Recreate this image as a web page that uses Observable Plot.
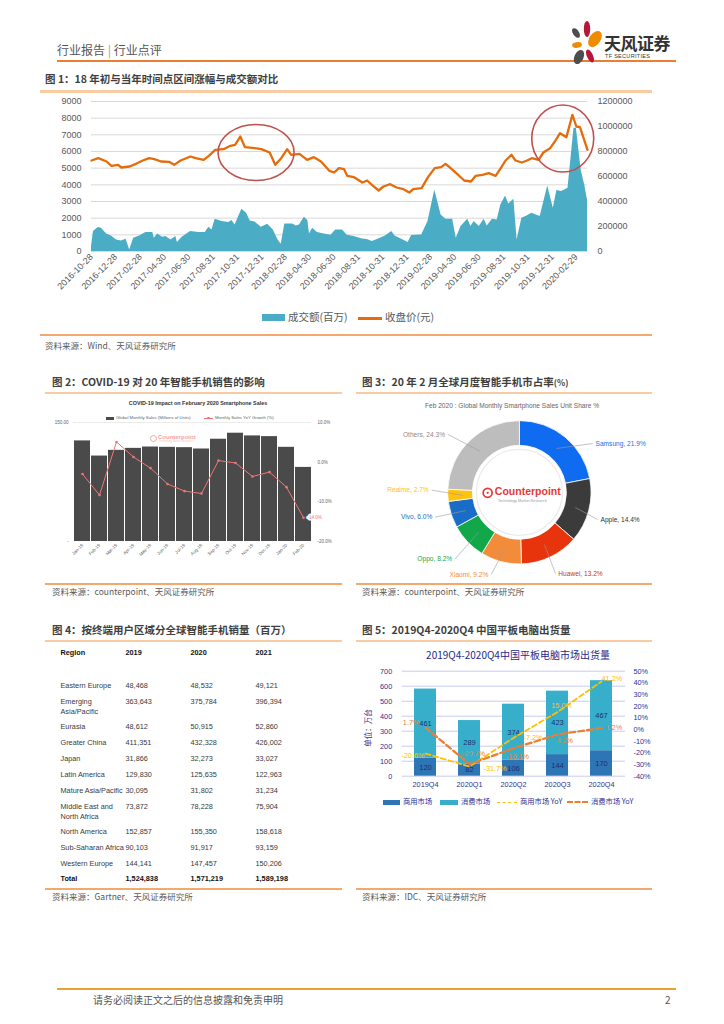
<!DOCTYPE html>
<html><head><meta charset="utf-8">
<script src="https://cdn.jsdelivr.net/npm/d3@7"></script>
<script src="https://cdn.jsdelivr.net/npm/@observablehq/plot@0.6"></script>
<style>
body{margin:0;background:#fff;}
#page{position:relative;width:724px;height:1024px;overflow:hidden;font-family:"Noto Sans CJK SC","Noto Sans",sans-serif;color:#333;}
.abs{position:absolute;white-space:nowrap;line-height:1;}
.figtitle{font-size:10.5px;font-weight:bold;color:#3f3f3f;}
.src{font-size:8.5px;color:#595959;}
</style></head><body><div id="page"></div>
<script>
// ================= DATA =================
// Figure 1
const closePrice = [
["2016-10-28",5460],["2016-11-14",5600],["2016-12-05",5400],["2016-12-17",5140],["2017-01-03",5200],["2017-01-11",5040],
["2017-02-01",5100],["2017-02-17",5260],["2017-03-06",5460],["2017-03-22",5600],["2017-04-04",5540],["2017-04-21",5400],
["2017-05-11",5380],["2017-05-24",5200],["2017-06-09",5460],["2017-07-04",5700],["2017-07-17",5600],["2017-08-06",5500],
["2017-08-19",5740],["2017-09-04",6100],["2017-09-25",6140],["2017-10-12",6340],["2017-10-24",6400],["2017-11-06",6900],
["2017-11-18",6260],["2017-12-13",6200],["2017-12-29",6140],["2018-01-19",5940],["2018-02-02",5200],["2018-02-17",5600],
["2018-03-04",6140],["2018-03-14",5800],["2018-04-04",5860],["2018-04-23",5500],["2018-05-10",5660],["2018-05-28",5400],
["2018-06-18",4840],["2018-06-30",4740],["2018-07-12",5000],["2018-07-25",4940],["2018-08-02",4540],["2018-08-19",4460],
["2018-09-09",4140],["2018-09-21",4260],["2018-10-03",4000],["2018-10-20",3660],["2018-11-01",3900],["2018-11-18",4040],
["2018-12-04",3840],["2018-12-21",3740],["2019-01-05",3540],["2019-01-15",3740],["2019-02-05",3800],["2019-02-21",4460],
["2019-03-10",5000],["2019-03-26",5060],["2019-04-06",5260],["2019-04-16",5060],["2019-05-03",4700],["2019-05-23",4260],
["2019-06-09",4200],["2019-06-21",4540],["2019-07-08",4600],["2019-07-24",4700],["2019-08-10",4540],["2019-08-23",5000],
["2019-09-04",5460],["2019-09-19",5800],["2019-09-29",5460],["2019-10-15",5340],["2019-10-28",5460],["2019-11-09",5600],
["2019-11-26",5500],["2019-12-08",5940],["2019-12-25",6200],["2020-01-06",6600],["2020-01-19",7100],["2020-02-04",6860],
["2020-02-19",8200],["2020-02-29",7500],["2020-03-09",7460],["2020-03-28",6100]];
const turnover = [
["2016-10-28",40000],["2016-11-02",160000],["2016-11-14",192000],["2016-11-22",187000],["2016-12-05",141000],["2016-12-17",125000],
["2016-12-30",93000],["2017-01-11",85000],["2017-01-23",99000],["2017-02-01",13000],["2017-02-11",107000],["2017-02-26",125000],
["2017-03-14",152000],["2017-03-31",152000],["2017-04-04",107000],["2017-04-12",141000],["2017-04-25",115000],["2017-05-03",120000],
["2017-05-16",93000],["2017-05-28",120000],["2017-06-01",72000],["2017-06-13",115000],["2017-07-04",160000],["2017-07-25",152000],
["2017-08-10",152000],["2017-08-19",195000],["2017-08-27",173000],["2017-09-04",259000],["2017-09-21",240000],["2017-10-08",232000],
["2017-10-16",248000],["2017-10-24",213000],["2017-11-10",339000],["2017-11-22",307000],["2017-12-01",245000],["2017-12-13",237000],
["2017-12-29",195000],["2018-01-14",219000],["2018-01-28",173000],["2018-02-09",93000],["2018-02-17",59000],["2018-02-26",221000],
["2018-03-18",221000],["2018-03-27",205000],["2018-04-04",213000],["2018-04-16",275000],["2018-04-25",248000],["2018-04-29",141000],
["2018-05-07",187000],["2018-05-19",152000],["2018-06-05",141000],["2018-06-22",131000],["2018-07-04",173000],["2018-07-21",173000],
["2018-08-02",131000],["2018-08-19",120000],["2018-09-09",101000],["2018-09-21",96000],["2018-10-04",80000],["2018-10-20",101000],
["2018-11-06",125000],["2018-11-22",160000],["2018-11-30",125000],["2018-12-17",99000],["2019-01-02",72000],["2019-01-11",128000],
["2019-02-05",133000],["2019-02-21",240000],["2019-03-10",493000],["2019-03-26",293000],["2019-04-07",259000],["2019-04-24",259000],
["2019-05-03",107000],["2019-05-15",200000],["2019-06-01",259000],["2019-06-09",200000],["2019-06-17",240000],["2019-06-30",200000],
["2019-07-12",259000],["2019-07-20",205000],["2019-08-02",259000],["2019-08-14",253000],["2019-08-23",373000],["2019-09-04",445000],
["2019-09-12",381000],["2019-09-25",419000],["2019-10-03",93000],["2019-10-15",267000],["2019-10-28",285000],["2019-11-09",307000],
["2019-11-30",280000],["2019-12-19",525000],["2020-01-02",347000],["2020-01-11",488000],["2020-01-23",480000],["2020-02-08",507000],
["2020-02-23",987000],["2020-02-29",987000],["2020-03-12",653000],["2020-03-21",533000],["2020-03-28",413000]];
const fig1Ticks = ["2016-10-28","2016-12-28","2017-02-28","2017-04-30","2017-06-30","2017-08-31","2017-10-31","2017-12-31",
"2018-02-28","2018-04-30","2018-06-30","2018-08-31","2018-10-31","2018-12-31","2019-02-28","2019-04-30","2019-06-30",
"2019-08-31","2019-10-31","2019-12-31","2020-02-29"];
const highlightCenters = [["2017-12-17",5910],["2020-01-27",6750]];
const highlightRadii = [[38,28],[31,33.5]];   // style (px)

// Figure 2
const months = ["Jan-19","Feb-19","Mar-19","Apr-19","May-19","Jun-19","Jul-19","Aug-19","Sep-19","Oct-19","Nov-19","Dec-19","Jan-20","Feb-20"];
const monthlySales = [126.8,107.7,114.9,117.4,119.1,118.7,118.3,116.6,128.9,136.5,133.1,132.2,118.7,93.4];
const yoyGrowth = [-3.0,-8.3,5.1,1.3,-1.5,-5.5,-7.3,-7.9,0.4,-0.2,-3.6,-2.5,-6.3,-14.0];

// Figure 3
const brands = ["Samsung","Apple","Huawei","Xiaomi","Oppo","Vivo","Realme","Others"];
const shares = [21.9,14.4,13.2,9.2,8.2,6.0,2.7,24.3];
const brandColors = ["#0F6CF0","#3B3B3B","#E8340C","#F28C3A","#12A84A","#1A6DC6","#FFC20E","#BDBDBD"];
const labelColors = ["#1A6FE8","#333333","#C0392B","#F28C3A","#12A84A","#1A6DC6","#FFC20E","#8C8C8C"];
const labelNudges = [[0.18,-0.255],[-0.155,-0.06],[-0.087,-0.025],[-0.025,0.04],[0.037,-0.082],[0.038,0.04],[0.046,0.089],[-0.1,-0.066]];

// Figure 4
const tableHeader = ["Region","2019","2020","2021"];
const regions = ["Eastern Europe","Emerging\nAsia/Pacific","Eurasia","Greater China","Japan","Latin America","Mature Asia/Pacific",
"Middle East and\nNorth Africa","North America","Sub-Saharan Africa","Western Europe","Total"];
const units2019 = [48468,363643,48612,411351,31866,129830,30095,73872,152857,90103,144141,1524838];
const units2020 = [48532,375784,50915,432328,32273,125635,31802,78228,155350,91917,147457,1571219];
const units2021 = [49121,396394,52860,426002,33027,122963,31234,75904,158618,93159,150206,1589198];

// Figure 5
const quarters = ["2019Q4","2020Q1","2020Q2","2020Q3","2020Q4"];
const commercial = [120,82,106,144,170];
const consumer = [461,289,374,423,467];
const commercialYoY = [-20.6,-31.7,-7.2,15.0,41.2];
const consumerYoY = [1.7,-29.7,-16.1,-4.2,1.2];
const commercialLabelPlace = [["end",-1,2],["start",14,2],["start",10,0],["middle",4,-6],["start",0,-3]];
const consumerLabelPlace = [["end",-6,-5],["middle",4,-11],["middle",4,8],["middle",6,6],["start",4,0]];

// ================= HELPERS =================
const page = document.getElementById("page");
function put(html, x, y, css=""){const d=document.createElement("div");d.className="abs";d.style.cssText=`left:${x}px;top:${y}px;`+css;d.innerHTML=html;page.appendChild(d);return d;}
function putCenter(html, cx, y, css=""){return put(html, cx-200, y, "width:400px;text-align:center;"+css);}
function rect(x,y,w,h,css){const d=document.createElement("div");d.style.cssText=`position:absolute;left:${x}px;top:${y}px;width:${w}px;height:${h}px;`+css;page.appendChild(d);return d;}
function place(node,x,y){node.style.position="absolute";node.style.left=x+"px";node.style.top=y+"px";page.appendChild(node);}
const parse = d3.utcParse("%Y-%m-%d");
const ORANGE_TOP="#F8CBA3", ORANGE_BOT="#F4A86C";

// ================= HEADER =================
put("行业报告 <span style='color:#999'>|</span> 行业点评",57,44,"font-size:12px;color:#555;");
rect(57,60,619,2,"background:#ED7D31");
put(`<svg width="36" height="50" viewBox="0 0 36 50">
<ellipse cx="19" cy="9" rx="3.2" ry="8" fill="#B5173A"/>
<ellipse cx="27" cy="19" rx="5.5" ry="9" transform="rotate(35 27 19)" fill="#F08A00"/>
<ellipse cx="8" cy="13" rx="3" ry="5.5" transform="rotate(-35 8 13)" fill="#4D4D4D"/>
<ellipse cx="9" cy="25" rx="5" ry="2.8" transform="rotate(-10 9 25)" fill="#F08A00"/>
<ellipse cx="11" cy="37" rx="4.5" ry="7.5" transform="rotate(25 11 37)" fill="#4D4D4D"/>
<ellipse cx="22" cy="36" rx="3" ry="7" transform="rotate(-25 22 36)" fill="#B5173A"/></svg>`,568,20);
put("天风证券",604,34,"font-size:17px;font-weight:bold;color:#333;letter-spacing:-0.5px;");
put("TF SECURITIES",605,54,"font-size:5.5px;color:#333;letter-spacing:0.3px;font-family:'Liberation Sans';");

// ================= FIGURE 1 =================
put("图 1：18 年初与当年时间点区间涨幅与成交额对比",45,74,"");
page.lastChild.className="abs figtitle";
rect(40,90,612,2.5,"background:"+ORANGE_TOP);
{
  const LMAX=9000, RMAX=1200000;
  const toLeft = v => v*LMAX/RMAX;
  const price = closePrice.map(([d,v])=>({date:parse(d),v}));
  const vol = turnover.map(([d,v])=>({date:parse(d),v}));
  const circles = highlightCenters.map(([d,v],i)=>({date:parse(d),v,rx:highlightRadii[i][0],ry:highlightRadii[i][1]}));
  const ellipseMark = (index, scales) => {
    const g = d3.create("svg:g");
    for (const c of circles) g.append("ellipse").attr("cx",scales.x(c.date)).attr("cy",scales.y(c.v))
      .attr("rx",c.rx).attr("ry",c.ry).attr("fill","none").attr("stroke","#C0504D").attr("stroke-width",1.6);
    return g.node();
  };
  const chart = Plot.plot({
    width:630,height:215,marginLeft:51,marginRight:83,marginTop:9,marginBottom:56,
    x:{type:"utc",domain:[parse("2016-10-28"),parse("2020-03-28")]},
    y:{domain:[0,LMAX]},
    style:{fontFamily:"'Liberation Sans',Arial,sans-serif",fontSize:"9px",color:"#595959",background:"transparent"},
    marks:[
      Plot.gridY({ticks:d3.range(0,LMAX+1,1000),stroke:"#D9D9D9",strokeOpacity:1}),
      Plot.areaY(vol,{x:"date",y:d=>toLeft(d.v),fill:"#4BACC6"}),
      Plot.line(price,{x:"date",y:"v",stroke:"#E46C0A",strokeWidth:2.3}),
      ellipseMark,
      Plot.axisY({ticks:d3.range(0,LMAX+1,1000),tickFormat:t=>String(t),tickSize:0,tickPadding:10,label:null,fontSize:9}),
      Plot.axisY({anchor:"right",ticks:d3.range(0,LMAX+1,1500),tickFormat:t=>String(Math.round(t*RMAX/LMAX)),tickSize:0,tickPadding:10,label:null,fontSize:9}),
      Plot.axisX({ticks:fig1Ticks.map(parse),tickFormat:d3.utcFormat("%Y-%m-%d"),tickRotate:-45,tickSize:0,tickPadding:4,label:null,fontSize:9})
    ]
  });
  place(chart,40,92);
  put("",262,314,"width:23px;height:7px;background:#4BACC6;");
  put("成交额(百万)",288,312,"font-size:10.5px;color:#595959;");
  put("",358,317,"width:24px;height:2.5px;background:#E46C0A;");
  put("收盘价(元)",385,312,"font-size:10.5px;color:#595959;");
}
rect(40,334,612,1.5,"background:"+ORANGE_BOT);
put("资料来源：Wind、天风证券研究所",45,341,"");page.lastChild.className="abs src";

// ================= FIGURE 2 =================
put("图 2：COVID-19 对 20 年智能手机销售的影响",52,377,"");page.lastChild.className="abs figtitle";
rect(45,392,297,2,"background:"+ORANGE_TOP);
putCenter("COVID-19 Impact on February 2020 Smartphone Sales",198,401,"font-size:5.4px;font-weight:bold;color:#333;font-family:'Liberation Sans';");
put("",106,416.5,"width:8px;height:3.5px;background:#4A4A4A;");
put("Global Monthly Sales (Millions of Units)",116,416,"font-size:4.3px;color:#666;font-family:'Liberation Sans';");
put("",204,417.6,"width:9px;height:0.8px;background:#F07575;");
put("",207.3,416.7,"width:2.4px;height:2.4px;border-radius:50%;background:#F07575;");
put("Monthly Sales YoY Growth (%)",215,416,"font-size:4.3px;color:#666;font-family:'Liberation Sans';");
{
  const toLeft2 = v => (v+20)/30*150;
  const data = months.map((m,i)=>({m,v:monthlySales[i],g:yoyGrowth[i]}));
  const last = data[data.length-1];
  const chart = Plot.plot({
    width:295,height:160,marginLeft:28,marginRight:29,marginTop:2,marginBottom:39,
    x:{type:"band",domain:months,paddingInner:0.06,paddingOuter:0},
    y:{domain:[0,150]},
    style:{fontFamily:"'Liberation Sans',Arial,sans-serif",fontSize:"4.5px",color:"#666",background:"transparent"},
    marks:[
      Plot.ruleY([150],{stroke:"#DDDDDD",strokeWidth:0.6}),
      Plot.barY(data,{x:"m",y:"v",fill:"#4A4A4A"}),
      Plot.line(data,{x:"m",y:d=>toLeft2(d.g),stroke:"#F07575",strokeWidth:1}),
      Plot.dot(data,{x:"m",y:d=>toLeft2(d.g),r:1.3,fill:"#F07575"}),
      Plot.text([last],{x:"m",y:d=>toLeft2(d.g),text:d=>d.g.toFixed(1)+"%",textAnchor:"start",dx:4,fill:"#F07575",stroke:"white",strokeWidth:3,fontSize:4.5}),
      Plot.axisY({ticks:[0,150],tickFormat:t=>t===0?"-":t.toFixed(2),tickSize:0,tickPadding:5,label:null,fontSize:4.5}),
      Plot.axisY({anchor:"right",ticks:[-20,-10,0,10].map(toLeft2),tickFormat:t=>(t/150*30-20).toFixed(1)+"%",tickSize:0,tickPadding:6,label:null,fontSize:4.5}),
      Plot.axisX({tickRotate:-45,tickSize:0,tickPadding:3,label:null,fontSize:4.5})
    ]
  });
  place(chart,45,420);
  put("",150,434.5,"width:5px;height:5px;border:1px solid #F4A3A3;border-radius:50%;");
  put("Counterpoint",158,434,"font-size:6px;font-weight:bold;color:#F4A3A3;font-family:'Liberation Sans';");
  put("Technology Market Research",159,441,"font-size:2.6px;color:#F6C0C0;font-family:'Liberation Sans';");
}
rect(45,583,297,1.5,"background:"+ORANGE_BOT);
put("资料来源：counterpoint、天风证券研究所",52,587,"");page.lastChild.className="abs src";

// ================= FIGURE 3 =================
put("图 3：20 年 2 月全球月度智能手机市占率<span style='font-size:8.5px'>(%)</span>",362,377,"");page.lastChild.className="abs figtitle";
rect(356,392,296,2,"background:"+ORANGE_TOP);
putCenter("Feb 2020 : Global Monthly Smartphone Sales Unit Share %",512,403,"font-size:6.6px;color:#666;font-family:'Liberation Sans';");
{
  const pie = d3.pie().sort(null).value(d=>d)(shares);
  const slices = brands.map((b,i)=>{
    const a=(pie[i].startAngle+pie[i].endAngle)/2, s=Math.sin(a), c=Math.cos(a), side=s>=0?1:-1;
    const lx=s*1.22+side*0.1+labelNudges[i][0], ly=c*1.22+labelNudges[i][1];
    return {brand:b,share:shares[i],start:pie[i].startAngle,end:pie[i].endAngle,color:brandColors[i],lc:labelColors[i],
      side,lx,ly,px:s*0.8,py:c*0.8,ex:lx-side*0.04,ey:ly};
  });
  const arcs = (index, scales) => {
    const cx=scales.x(0), cy=scales.y(0), R=scales.x(1)-cx;
    const arc=d3.arc().innerRadius(R*0.655).outerRadius(R);
    const g=d3.create("svg:g").attr("transform",`translate(${cx},${cy})`);
    g.selectAll("path").data(slices).join("path").attr("d",d=>arc({startAngle:d.start,endAngle:d.end}))
      .attr("fill",d=>d.color).attr("stroke","#fff").attr("stroke-width",0.8);
    g.append("circle").attr("r",R*0.6).attr("fill","none").attr("stroke","#EAEAEA").attr("stroke-width",1.2);
    return g.node();
  };
  const lab = d=>`${d.brand}, ${d.share.toFixed(1)}%`;
  const chart = Plot.plot({
    width:296,height:185,margin:0,
    x:{domain:[-2.28,1.85]},y:{domain:[-1.223,1.357]},
    color:{type:"identity"},
    axis:null,
    style:{fontFamily:"'Liberation Sans',Arial,sans-serif",background:"transparent"},
    marks:[
      arcs,
      Plot.link(slices,{x1:"px",y1:"py",x2:"ex",y2:"ey",stroke:"#9A9A9A",strokeWidth:0.6}),
      Plot.text(slices.filter(d=>d.side>0),{x:"lx",y:"ly",text:lab,fill:"lc",textAnchor:"start",fontSize:6.6}),
      Plot.text(slices.filter(d=>d.side<0),{x:"lx",y:"ly",text:lab,fill:"lc",textAnchor:"end",fontSize:6.6}),
      Plot.dot([{x:-0.45,y:0}],{x:"x",y:"y",r:4.5,stroke:"#E53935",strokeWidth:1.7,fill:"none"}),
      Plot.dot([{x:-0.45,y:0}],{x:"x",y:"y",r:1.1,fill:"#E53935"}),
      Plot.text([{x:-0.35,y:0.02,t:"Counterpoint"}],{x:"x",y:"y",text:"t",textAnchor:"start",fill:"#E53935",fontSize:10.5,fontWeight:"bold"}),
      Plot.text([{x:-0.31,y:-0.11,t:"Technology Market Research"}],{x:"x",y:"y",text:"t",textAnchor:"start",fill:"#999",fontSize:3.8})
    ]
  });
  place(chart,356,395);
}
rect(356,583,296,1.5,"background:"+ORANGE_BOT);
put("资料来源：counterpoint、天风证券研究所",362,587,"");page.lastChild.className="abs src";

// ================= FIGURE 4 =================
put("图 4：按终端用户区域分全球智能手机销量（百万）",52,625,"");page.lastChild.className="abs figtitle";
rect(45,640,297,2,"background:"+ORANGE_TOP);
{
  const fmt=d3.format(",");
  const cells=[];
  tableHeader.forEach(h=>cells.push({col:h,y:0,t:h,bold:true}));
  let y=2;
  regions.forEach((r,i)=>{
    const bold = r==="Total";
    cells.push({col:"Region",y,t:r,bold});
    cells.push({col:"2019",y,t:fmt(units2019[i]),bold});
    cells.push({col:"2020",y,t:fmt(units2020[i]),bold});
    cells.push({col:"2021",y,t:fmt(units2021[i]),bold});
    y += r.includes("\n") ? 1.56 : 1;
  });
  const chart = Plot.plot({
    width:297,height:244,marginLeft:15,marginRight:87,marginTop:4,marginBottom:0,
    x:{type:"point",domain:tableHeader,padding:0},y:{domain:[0,15],reverse:true},axis:null,
    style:{fontFamily:"'Liberation Sans',Arial,sans-serif",background:"transparent"},
    marks:[
      Plot.text(cells.filter(d=>!d.bold),{x:"col",y:"y",text:"t",textAnchor:"start",lineAnchor:"top",lineHeight:1.3,fontSize:7.3,fill:"#3a3a3a"}),
      Plot.text(cells.filter(d=>d.bold),{x:"col",y:"y",text:"t",textAnchor:"start",lineAnchor:"top",fontSize:7.3,fontWeight:"bold",fill:"#111"})
    ]
  });
  place(chart,45,645);
}
rect(45,888,297,1.5,"background:"+ORANGE_BOT);
put("资料来源：Gartner、天风证券研究所",52,892,"");page.lastChild.className="abs src";

// ================= FIGURE 5 =================
put("图 5：2019Q4-2020Q4 中国平板电脑出货量",362,625,"");page.lastChild.className="abs figtitle";
rect(356,640,296,2,"background:"+ORANGE_TOP);
const NAVY="#2E3192";
putCenter("2019Q4-2020Q4中国平板电脑市场出货量",518,650,"font-size:10px;color:#1F2A8A;");
put("单位：万台",368,728,"transform:translate(-50%,-50%) rotate(-90deg);font-size:7.5px;color:"+NAVY+";");
{
  const toLeft5 = v => (v+40)/90*700;
  const segs=["商用市场","消费市场"];
  const bars = quarters.flatMap((q,i)=>[{q,seg:segs[0],v:commercial[i]},{q,seg:segs[1],v:consumer[i]}]);
  const cy = quarters.map((q,i)=>({q,v:commercialYoY[i]}));
  const sy = quarters.map((q,i)=>({q,v:consumerYoY[i]}));
  const fmtPct = v => v.toFixed(1)+"%";
  const labelMarks = [];
  cy.forEach((d,i)=>{const [a,dx,dy]=commercialLabelPlace[i];
    labelMarks.push(Plot.text([d],{x:"q",y:e=>toLeft5(e.v),text:e=>fmtPct(e.v),textAnchor:a,dx,dy,fill:"#FFC000",fontSize:7.3}));});
  sy.forEach((d,i)=>{const [a,dx,dy]=consumerLabelPlace[i];
    labelMarks.push(Plot.text([d],{x:"q",y:e=>toLeft5(e.v),text:e=>fmtPct(e.v),textAnchor:a,dx,dy,fill:"#ED7D31",fontSize:7.3}));});
  const chart = Plot.plot({
    width:300,height:133,marginLeft:45.7,marginRight:31,marginTop:8.7,marginBottom:19.3,
    x:{type:"band",domain:quarters,paddingInner:0.5,paddingOuter:0.25},
    y:{domain:[0,700]},
    color:{domain:segs,range:["#2E75B6","#38AFCA"]},
    style:{fontFamily:"'Liberation Sans',Arial,sans-serif",fontSize:"7.3px",color:NAVY,background:"transparent"},
    marks:[
      Plot.gridY({ticks:d3.range(0,701,100),stroke:"#C9CBF0",strokeOpacity:1}),
      Plot.barY(bars,{x:"q",y:"v",fill:"seg"}),
      Plot.text(bars,Plot.stackY({x:"q",y:"v",z:"seg",text:d=>String(d.v),fill:"#1F2F6F",fontSize:7.5})),
      Plot.line(cy,{x:"q",y:d=>toLeft5(d.v),stroke:"#FFC000",strokeWidth:1.8,strokeDasharray:"5,3"}),
      Plot.line(sy,{x:"q",y:d=>toLeft5(d.v),stroke:"#ED7D31",strokeWidth:2.2,strokeDasharray:"6,3"}),
      ...labelMarks,
      Plot.axisY({ticks:d3.range(0,701,100),tickSize:0,tickPadding:10,label:null,fontSize:7.3}),
      Plot.axisY({anchor:"right",ticks:d3.range(-40,51,10).map(toLeft5),tickFormat:t=>Math.round(t/700*90-40)+"%",tickSize:0,tickPadding:8,label:null,fontSize:7.3}),
      Plot.axisX({tickSize:0,tickPadding:6,label:null,fontSize:7.3})
    ]
  });
  place(chart,356,662);
  const lg="font-size:7.3px;color:"+NAVY+";";
  put("",383,800,"width:17px;height:4.5px;background:#2E75B6;");
  put("商用市场",403,798,lg);
  put("",440,800,"width:18px;height:4.5px;background:#38AFCA;");
  put("消费市场",461,798,lg);
  put("",497,801.5,"width:20px;height:0;border-top:1.8px dashed #FFC000;");
  put("商用市场 YoY",520,798,lg);
  put("",567,801.3,"width:21px;height:0;border-top:2.2px dashed #ED7D31;");
  put("消费市场 YoY",591,798,lg);
}
rect(356,888,296,1.5,"background:"+ORANGE_BOT);
put("资料来源：IDC、天风证券研究所",362,892,"");page.lastChild.className="abs src";

// ================= FOOTER =================
rect(57,988,619,2,"background:#EDA035");
put("请务必阅读正文之后的信息披露和免责申明",93,995,"font-size:10px;color:#555;");
put("2",665,995,"font-size:10px;color:#555;");
</script></body></html>
